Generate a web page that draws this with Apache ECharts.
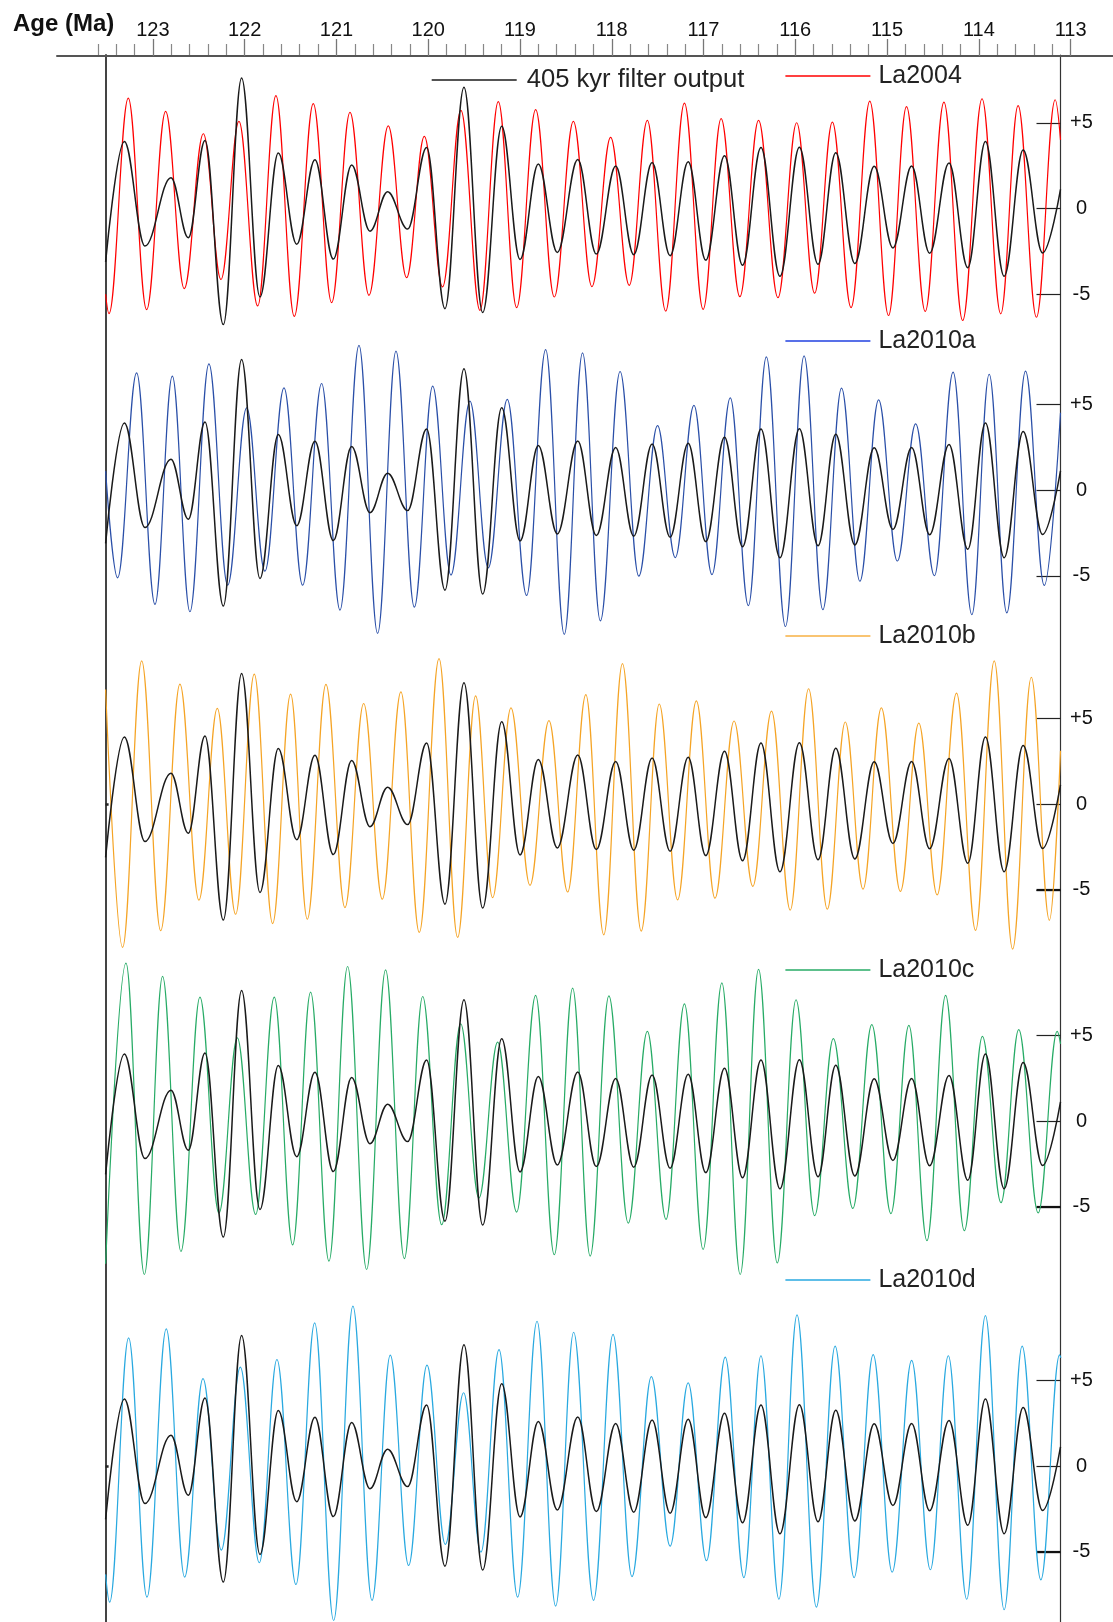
<!DOCTYPE html>
<html><head><meta charset="utf-8">
<script src="https://cdn.jsdelivr.net/npm/echarts@6/dist/echarts.min.js"></script>
<style>html,body{margin:0;padding:0;background:#fff}#c{width:1113px;height:1622px}</style>
</head><body><div id="c"></div>
<script>
// ---------- DATA ----------
const ageTickLabels = [113,114,115,116,117,118,119,120,121,122,123];
const yTickValues = [-5,0,5];

const blackAges = [123.515,123.311,123.086,122.803,122.614,122.432,122.232,122.033,121.833,121.633,121.433,121.234,121.034,120.834,120.634,120.442,120.224,120.017,119.817,119.610,119.406,119.199,118.999,118.800,118.593,118.370,118.168,117.957,117.760,117.560,117.364,117.167,116.975,116.771,116.574,116.374,116.167,115.955,115.752,115.559,115.351,115.140,114.936,114.732,114.536,114.325,114.120,113.928,113.724,113.517,113.305,113.110];
const blackVals = [-3.11,3.91,-2.19,1.80,-1.71,3.97,-6.77,7.61,-5.16,3.23,-2.08,2.84,-2.95,2.54,-1.32,0.98,-1.20,3.56,-5.84,7.07,-6.07,4.79,-2.97,2.60,-2.56,2.85,-2.66,2.48,-2.69,2.68,-2.75,2.72,-3.01,3.07,-3.31,3.55,-3.95,3.57,-3.25,3.25,-3.21,2.46,-2.30,2.48,-2.61,2.66,-3.45,3.91,-3.95,3.41,-2.59,1.12];

const la2004Ages = [123.515,123.478,123.268,123.068,122.861,122.658,122.450,122.258,122.062,121.858,121.659,121.459,121.252,121.052,120.852,120.645,120.435,120.235,120.042,119.843,119.643,119.436,119.236,119.036,118.829,118.626,118.418,118.216,118.012,117.809,117.612,117.412,117.208,117.004,116.808,116.604,116.400,116.189,115.985,115.789,115.596,115.392,115.188,114.984,114.788,114.584,114.380,114.176,113.965,113.761,113.572,113.372,113.168,113.110];
const la2004Vals = [-5.0,-6.13,6.44,-5.90,5.66,-4.67,4.36,-4.14,5.08,-5.68,6.58,-6.29,6.11,-5.49,5.60,-5.06,4.82,-4.03,4.20,-4.57,5.72,-5.94,6.23,-5.78,5.76,-5.16,5.08,-4.55,4.15,-4.48,5.14,-5.98,6.14,-5.88,5.24,-5.14,5.14,-5.20,5.00,-4.94,5.04,-5.78,6.26,-6.24,5.94,-6.00,6.20,-6.53,6.40,-6.14,6.00,-6.34,6.34,4.0];

const la2010aAges = [123.515,123.384,123.177,122.977,122.788,122.596,122.389,122.185,121.978,121.779,121.571,121.368,121.161,120.961,120.754,120.551,120.351,120.151,119.951,119.752,119.545,119.345,119.138,118.927,118.720,118.517,118.318,118.124,117.909,117.705,117.501,117.308,117.104,116.908,116.708,116.511,116.315,116.107,115.904,115.700,115.496,115.296,115.092,114.888,114.688,114.484,114.280,114.076,113.887,113.695,113.491,113.287,113.110];
const la2010aVals = [1.10,-5.12,6.83,-6.67,6.64,-7.10,7.36,-5.55,4.79,-4.73,5.96,-5.55,6.21,-7.00,8.43,-8.36,8.10,-6.83,6.06,-4.96,5.18,-4.54,5.28,-6.15,8.19,-8.42,8.00,-7.63,6.91,-5.02,3.75,-3.94,4.94,-4.93,5.37,-6.74,7.76,-7.96,7.82,-6.98,5.94,-5.32,5.25,-4.14,3.85,-5.00,6.87,-7.27,6.75,-7.17,6.93,-5.56,4.50];

const la2010bAges = [123.515,123.330,123.122,122.915,122.705,122.498,122.298,122.098,121.895,121.695,121.499,121.317,121.114,120.907,120.703,120.500,120.297,120.097,119.882,119.679,119.483,119.298,119.098,118.891,118.684,118.480,118.282,118.087,117.883,117.679,117.482,117.282,117.078,116.875,116.667,116.463,116.259,116.055,115.855,115.651,115.455,115.262,115.062,114.855,114.654,114.454,114.243,114.035,113.832,113.632,113.428,113.231,113.110];
const la2010bVals = [6.68,-8.36,8.34,-7.39,6.99,-5.61,5.57,-6.43,7.57,-6.97,6.41,-6.72,6.97,-6.04,5.86,-5.55,6.54,-7.49,8.48,-7.78,6.31,-5.46,5.61,-4.74,4.86,-5.13,6.38,-7.63,8.18,-7.41,5.83,-5.59,6.01,-5.49,4.84,-4.80,5.42,-6.19,6.72,-6.13,4.78,-4.96,5.61,-5.10,4.72,-5.30,6.46,-7.37,8.34,-8.46,7.39,-6.78,3.10];

const la2010cAges = [123.515,123.293,123.093,122.894,122.694,122.487,122.280,122.080,121.880,121.677,121.477,121.281,121.081,120.878,120.671,120.464,120.260,120.060,119.853,119.646,119.447,119.243,119.036,118.829,118.626,118.426,118.235,118.031,117.820,117.612,117.408,117.208,117.004,116.800,116.600,116.400,116.196,115.992,115.789,115.585,115.373,115.166,114.958,114.762,114.565,114.362,114.158,113.961,113.758,113.565,113.353,113.146,113.110];
const la2010cVals = [-8.32,9.20,-8.95,8.43,-7.61,7.22,-5.37,4.85,-5.45,7.22,-7.22,7.51,-8.17,9.01,-8.66,8.81,-8.03,7.26,-6.05,5.67,-4.50,4.60,-5.31,7.32,-7.80,7.75,-7.88,7.30,-5.95,5.23,-5.74,6.83,-7.49,8.05,-8.95,8.84,-8.28,7.07,-5.52,4.80,-5.10,5.62,-5.40,5.58,-6.98,7.32,-6.40,4.93,-4.76,5.33,-5.36,5.23,4.50];

const la2010dAges = [123.515,123.471,123.264,123.064,122.854,122.654,122.454,122.254,122.047,121.840,121.648,121.441,121.237,121.030,120.820,120.612,120.413,120.213,120.013,119.813,119.614,119.425,119.228,119.025,118.814,118.611,118.415,118.198,117.986,117.779,117.568,117.364,117.167,116.967,116.763,116.560,116.374,116.178,115.981,115.770,115.566,115.359,115.151,114.944,114.732,114.528,114.332,114.132,113.928,113.724,113.528,113.324,113.120,113.106];
const la2010dVals = [-6.32,-7.94,7.47,-7.65,8.00,-6.48,5.10,-4.90,5.76,-5.64,6.21,-6.91,8.35,-9.01,9.32,-7.84,6.46,-5.80,5.88,-4.57,4.27,-5.02,6.79,-7.65,8.44,-8.17,7.80,-7.83,7.68,-6.45,5.21,-4.67,4.85,-5.52,6.35,-6.51,6.43,-7.77,8.81,-8.23,6.99,-6.51,6.49,-6.19,6.16,-6.05,6.43,-7.77,8.77,-8.38,6.99,-6.64,6.48,6.3];

const panelNames = ['La2004','La2010a','La2010b','La2010c','La2010d'];
const filterName = '405 kyr filter output';

// ---------- LAYOUT / STYLE ----------
const FONT = 'Liberation Sans, Arial, sans-serif';
const plotLeft = 105.6, plotRight = 1113 - 1060.5;
const ageLeft = 123.515, ageRight = 113.110;
const axisTop = 55;
const unitPx = 17.15;
const yMin = -9.05, yMax = 9.5;
const panelZero = [208.5, 490, 804, 1121, 1466];
const panelColors = ['#ff0000','#2a4fa8','#f5a425','#27ab66','#29a9e0'];
const legendColors = ['#ff0000','#2040e0','#f7b043','#27ab66','#29a9e0'];
const legendCenterY = [76, 341, 636, 970, 1280];
const boldMinus5 = [false, false, true, true, true];
const leftZeroMark = [false, false, true, false, true];

const minorTicks = [];
for (let k = 1132; k <= 1236; k += 2) { if (k % 10 !== 0) minorTicks.push(k / 10); }

const panelAges = [la2004Ages, la2010aAges, la2010bAges, la2010cAges, la2010dAges];
const panelVals = [la2004Vals, la2010aVals, la2010bVals, la2010cVals, la2010dVals];
const pairs = (a, v) => a.map((x, i) => [x, v[i]]);

const grid = [
  {left: 57, right: 0, top: axisTop, height: 1},
  {left: plotLeft, right: plotRight, top: axisTop, bottom: 0}
];
const xAxis = [
  {gridIndex: 0, type: 'value', position: 'top', inverse: true, min: 112.538, max: 124.045,
   axisLine: {show: true, lineStyle: {color: '#555', width: 2}},
   axisTick: {show: true, customValues: ageTickLabels, length: 17, lineStyle: {color: '#777', width: 1.3}},
   axisLabel: {show: true, customValues: ageTickLabels, margin: 15, fontSize: 20, color: '#111', fontFamily: FONT},
   splitLine: {show: false}},
  {gridIndex: 0, type: 'value', position: 'top', inverse: true, min: 112.538, max: 124.045,
   axisLine: {show: false},
   axisTick: {show: true, customValues: minorTicks, length: 11, lineStyle: {color: '#888', width: 1.2}},
   axisLabel: {show: false}, splitLine: {show: false}},
  {gridIndex: 1, type: 'value', show: false, min: 0, max: 1}
];
const yAxis = [
  {gridIndex: 0, type: 'value', show: false},
  {gridIndex: 1, type: 'value', position: 'left', min: 0, max: 1,
   axisLine: {show: true, lineStyle: {color: '#444', width: 2}}, axisTick: {show: false}, axisLabel: {show: false}, splitLine: {show: false}},
  {gridIndex: 1, type: 'value', position: 'right', min: 0, max: 1,
   axisLine: {show: true, lineStyle: {color: '#333', width: 1.2}}, axisTick: {show: false}, axisLabel: {show: false}, splitLine: {show: false}}
];
const series = [];
const legend = [];

panelNames.forEach((nm, i) => {
  const gi = grid.length;
  grid.push({left: plotLeft, right: plotRight, top: panelZero[i] - yMax * unitPx, height: (yMax - yMin) * unitPx});
  const xi = xAxis.length;
  xAxis.push({gridIndex: gi, type: 'value', show: false, inverse: true, min: ageRight, max: ageLeft});
  const yi = yAxis.length;
  yAxis.push({gridIndex: gi, type: 'value', position: 'right', min: yMin, max: yMax,
    axisLine: {show: false}, splitLine: {show: false},
    axisTick: {show: true, inside: true, length: 24, customValues: yTickValues, lineStyle: {color: '#222', width: 1.2}},
    axisLabel: {show: true, customValues: yTickValues, margin: 21, align: 'center', fontSize: 20, color: '#111', fontFamily: FONT,
      formatter: v => (v > 0 ? '+' + v : String(v))}});
  if (boldMinus5[i]) {
    yAxis.push({gridIndex: gi, type: 'value', position: 'right', min: yMin, max: yMax,
      axisLine: {show: false}, splitLine: {show: false}, axisLabel: {show: false},
      axisTick: {show: true, inside: true, length: 24, customValues: [-5], lineStyle: {color: '#111', width: 2.2}}});
  }
  if (leftZeroMark[i]) {
    yAxis.push({gridIndex: gi, type: 'value', position: 'left', min: yMin, max: yMax,
      axisLine: {show: false}, splitLine: {show: false}, axisLabel: {show: false},
      axisTick: {show: true, inside: true, length: 3, customValues: [0], lineStyle: {color: '#222', width: 2.5}}});
  }
  series.push({name: nm, type: 'line', xAxisIndex: xi, yAxisIndex: yi, data: pairs(panelAges[i], panelVals[i]),
    showSymbol: false, symbol: 'none', smooth: 0.38, smoothMonotone: 'x', z: 2, clip: false,
    lineStyle: {color: panelColors[i], width: 1.2}, itemStyle: {color: panelColors[i]}});
  series.push({name: filterName, type: 'line', xAxisIndex: xi, yAxisIndex: yi, data: pairs(blackAges, blackVals),
    showSymbol: false, symbol: 'none', smooth: 0.38, smoothMonotone: 'x', z: 3, clip: false,
    lineStyle: {color: '#1a1a1a', width: 1.5}, itemStyle: {color: '#1a1a1a'}});
});

const legendBase = {orient: 'horizontal', padding: 0, itemWidth: 85, itemHeight: 1.5, icon: 'rect', selectedMode: false,
  textStyle: {fontSize: 25, color: '#222', fontFamily: FONT, lineHeight: 26, padding: [0, 0, 0, 3]}};
legend.push(Object.assign({}, legendBase, {left: 431.7, top: 80 - 13,
  textStyle: Object.assign({}, legendBase.textStyle, {fontSize: 25.6, padding: [0, 0, 0, 5]}),
  data: [{name: filterName, itemStyle: {color: '#1a1a1a'}}]}));
panelNames.forEach((nm, i) => {
  legend.push(Object.assign({}, legendBase, {left: 785.4, top: legendCenterY[i] - 13, data: [{name: nm, itemStyle: {color: legendColors[i]}}]}));
});

const chart = echarts.init(document.getElementById('c'), null, {renderer: 'canvas'});
chart.setOption({
  animation: false,
  backgroundColor: '#fff',
  title: {text: 'Age (Ma)', left: 8, top: 7, textStyle: {fontSize: 24, fontWeight: 'bold', color: '#111', fontFamily: FONT}},
  grid, xAxis, yAxis, series, legend
});
</script></body></html>
